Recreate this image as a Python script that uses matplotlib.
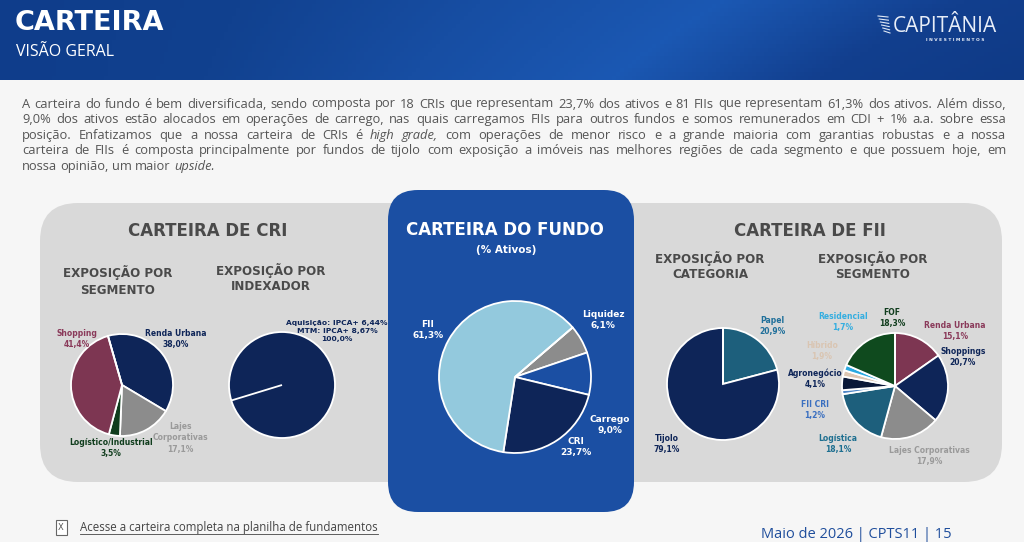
import numpy as np
import matplotlib.pyplot as plt
from matplotlib.patches import FancyBboxPatch, Rectangle
from matplotlib.colors import LinearSegmentedColormap

W, H = 1024, 542

# carteira do fundo (% ativos)
fundo_labels = ['Liquidez', 'Carrego', 'CRI', 'FII']
fundo_vals = [6.1, 9.0, 23.7, 61.3]

# carteira de CRI
cri_seg_labels = ['Renda Urbana', 'Lajes\nCorporativas', 'Logístico/Industrial', 'Shopping']
cri_seg_vals = [38.0, 17.1, 3.5, 41.4]
cri_idx_labels = ['Aquisição: IPCA+ 6,44%\nMTM: IPCA+ 8,67%']
cri_idx_vals = [100.0]

# carteira de FII
fii_cat_labels = ['Papel', 'Tijolo']
fii_cat_vals = [20.9, 79.1]
fii_seg_labels = ['Renda Urbana', 'Shoppings', 'Lajes Corporativas', 'Logística', 'FII CRI',
                  'Agronegócio', 'Híbrido', 'Residencial', 'FOF']
fii_seg_vals = [15.1, 20.7, 17.9, 18.1, 1.2, 4.1, 1.9, 1.7, 18.3]

paragraph = [
    "A carteira do fundo é bem diversificada, sendo composta por 18 CRIs que representam 23,7% dos ativos e 81 FIIs que representam 61,3% dos ativos. Além disso,",
    "9,0% dos ativos estão alocados em operações de carrego, nas quais carregamos FIIs para outros fundos e somos remunerados em CDI + 1% a.a. sobre essa",
    "posição.  Enfatizamos que a nossa carteira de CRIs é *high *grade, com operações  de menor risco e a grande maioria com garantias robustas e a nossa",
    "carteira de FIIs é composta principalmente por fundos de tijolo com exposição a imóveis nas melhores regiões de cada segmento e que possuem hoje, em",
    "nossa opinião, um maior *upside.",
]

NAVY = '#0e2558'
MAROON = '#7d3652'
GRAY = '#8c8c8c'
DKGREEN = '#103d1d'
TEAL = '#1d5f7c'
PANEL_BLUE = '#1b4fa3'
TITLE_GRAY = '#4a4a4a'


def pct(v):
    return f"{v:.1f}".replace('.', ',') + '%'


fig = plt.figure(figsize=(W / 100, H / 100), dpi=100)
fig.patch.set_facecolor('#f6f6f6')
ax = fig.add_axes([0, 0, 1, 1])
ax.set_facecolor('#f6f6f6')
renderer = fig.canvas.get_renderer()


def T(x, py, s, size=6, color=NAVY, weight='bold', ha='center', **kw):
    return ax.text(x, H - py, s, fontsize=size, color=color, fontweight=weight,
                   ha=ha, va='center', family='DejaVu Sans', linespacing=1.3, zorder=10, **kw)


# header band
grad = np.linspace(0, 1, 256)[None, :] * np.ones((20, 1))
grad = grad * (1 - 0.15 * np.linspace(0, 1, 20)[:, None])
hdr_cmap = LinearSegmentedColormap.from_list(
    'hdr', ['#0f3d8b', '#11418f', '#174ea3', '#1b58b3', '#123f8e', '#0f3a86'])
ax.imshow(grad, extent=(0, W, H - 80, H), aspect='auto', cmap=hdr_cmap, zorder=1, origin='lower')
ax.text(15, H - 23, 'CARTEIRA', fontsize=19.5, color='white', fontweight='heavy',
        family='DejaVu Sans', va='center', zorder=3)
ax.text(16, H - 52, 'VISÃO GERAL', fontsize=11.5, color='white', family='Open Sans',
        va='center', zorder=3)
ax.text(893, H - 27, 'CAPITÂNIA', fontsize=15, color='#e8eef8', family='Open Sans',
        va='center', zorder=3)
ax.text(955, H - 40, 'I N V E S T I M E N T O S', fontsize=3.2, color='#e8eef8',
        family='DejaVu Sans', fontweight='bold', ha='center', va='center', zorder=3)
for k in range(6):
    ax.plot([878 + k * 1.2, 888 + k * 0.4], [H - 16 - k * 3, H - 17 - k * 3.2],
            color='#dfe8f5', lw=0.8, zorder=3)

# paragraph, justified word by word
left, right = 22, 1006
probe_size = 10
widest = 0
for line in paragraph[:-1]:
    t = ax.text(0, 0, line.replace('*', ''), fontsize=probe_size, family='Open Sans')
    widest = max(widest, t.get_window_extent(renderer).width)
    t.remove()
para_size = probe_size * 0.975 * (right - left) / widest

for i, line in enumerate(paragraph):
    py = 104 + i * 15.6
    words = line.split()
    objs = []
    for w in words:
        style = 'normal'
        if w.startswith('*'):
            w = w[1:]
            style = 'italic'
        objs.append(ax.text(0, H - py, w, fontsize=para_size, color='#555555', family='Open Sans',
                            style=style, va='center', zorder=3))
    widths = [o.get_window_extent(renderer).width for o in objs]
    if i == len(paragraph) - 1:
        gap = para_size * 0.36
    else:
        gap = (right - left - sum(widths)) / (len(objs) - 1)
    x = left
    for o, wd in zip(objs, widths):
        o.set_x(x)
        x += wd + gap

# panels
ax.add_patch(FancyBboxPatch((40, H - 482), 962, 279, boxstyle='round,pad=0,rounding_size=38',
                            fc='#d9d9d9', ec='none', zorder=2))
ax.add_patch(FancyBboxPatch((388, H - 512), 246, 322, boxstyle='round,pad=0,rounding_size=30',
                            fc=PANEL_BLUE, ec='none', zorder=3))

# titles
T(208, 231, 'CARTEIRA DE CRI', size=12, color=TITLE_GRAY)
T(118, 281, 'EXPOSIÇÃO POR\nSEGMENTO', size=8.6, color=TITLE_GRAY)
T(271, 278, 'EXPOSIÇÃO POR\nINDEXADOR', size=8.6, color=TITLE_GRAY)
T(505, 230, 'CARTEIRA DO FUNDO', size=12, color='white')
T(506, 250, '(% Ativos)', size=7.5, color='white')
T(810, 231, 'CARTEIRA DE FII', size=12, color=TITLE_GRAY)
T(710, 266, 'EXPOSIÇÃO POR\nCATEGORIA', size=8.6, color=TITLE_GRAY)
T(873, 266, 'EXPOSIÇÃO POR\nSEGMENTO', size=8.6, color=TITLE_GRAY)


def draw_pie(vals, colors, cx, cy, r, start):
    wedges, _ = ax.pie(vals, colors=colors, center=(cx, H - cy), radius=r, startangle=start,
                       counterclock=False, frame=True,
                       wedgeprops=dict(edgecolor='white', linewidth=1.3))
    for wd in wedges:
        wd.set_zorder(5)
    # radial edge at the start angle (needed for a single full slice)
    a = np.deg2rad(start)
    ax.plot([cx, cx + r * np.cos(a)], [H - cy, H - cy + r * np.sin(a)],
            color='white', lw=1.3, zorder=6, solid_capstyle='butt')


# CRI por segmento
draw_pie(cri_seg_vals, [NAVY, GRAY, DKGREEN, MAROON], 122, 385, 51, 106)
cri_pos = [(176, 339), (180, 438), (111, 448), (77, 339)]
cri_col = [NAVY, '#9a9a9a', DKGREEN, '#8a3a5a']
for lab, v, (x, py), c in zip(cri_seg_labels, cri_seg_vals, cri_pos, cri_col):
    T(x, py, lab + '\n' + pct(v), size=5.5, color=c)

# CRI por indexador
draw_pie(cri_idx_vals, [NAVY], 282, 385, 53, 197)
T(337, 331, cri_idx_labels[0] + '\n' + pct(cri_idx_vals[0]), size=5.4, color=NAVY)

# carteira do fundo
draw_pie(fundo_vals, [GRAY, PANEL_BLUE, NAVY, '#93c9dd'], 515, 377, 76, 40.7)
fundo_pos = [(603, 320), (610, 425), (576, 447), (428, 330)]
for lab, v, (x, py) in zip(fundo_labels, fundo_vals, fundo_pos):
    T(x, py, lab + '\n' + pct(v), size=6.5, color='white')

# FII por categoria
draw_pie(fii_cat_vals, [TEAL, NAVY], 723, 384, 56, 90)
T(772, 326, fii_cat_labels[0] + '\n' + pct(fii_cat_vals[0]), size=5.5, color='#1f6f9a')
T(667, 444, fii_cat_labels[1] + '\n' + pct(fii_cat_vals[1]), size=5.5, color=NAVY)

# FII por segmento
seg_colors = [MAROON, NAVY, GRAY, TEAL, '#4f86c6', '#0a1838', '#dcc6b2', '#2aa9e0', '#0f4a1e']
draw_pie(fii_seg_vals, seg_colors, 895, 386, 53, 90)
seg_pos = [(955, 331), (963, 357), (929, 456), (838, 444), (815, 410),
           (815, 379), (822, 351), (843, 322), (892, 318)]
seg_txt = ['#8a3a5a', NAVY, '#9a9a9a', '#1e6f90', '#3a6fc0', NAVY, '#d9c5b2', '#35aee0', DKGREEN]
for lab, v, (x, py), c in zip(fii_seg_labels, fii_seg_vals, seg_pos, seg_txt):
    T(x, py, lab + '\n' + pct(v), size=5.5, color=c)

# footer
ax.add_patch(Rectangle((56, H - 535), 11, 15, fc='white', ec='#666666', lw=0.8, zorder=3))
ax.text(61, H - 527, 'X', fontsize=6, color='#555555', ha='center', va='center', zorder=4)
ft = ax.text(80, H - 528, 'Acesse a carteira completa na planilha de fundamentos', fontsize=8.3,
             color='#444444', family='Open Sans', va='center', zorder=3)
fw = ft.get_window_extent(renderer).width
ax.plot([80, 80 + fw], [H - 534, H - 534], color='#444444', lw=0.6, zorder=3)
ax.text(952, H - 535, 'Maio de 2026 | CPTS11 | 15', fontsize=10.5, color='#1f4e9c',
        family='Open Sans', ha='right', va='center', zorder=3)

ax.set_xlim(0, W)
ax.set_ylim(0, H)
ax.set_aspect('auto')
ax.axis('off')
fig.savefig('out.png', dpi=100, facecolor=fig.get_facecolor())
